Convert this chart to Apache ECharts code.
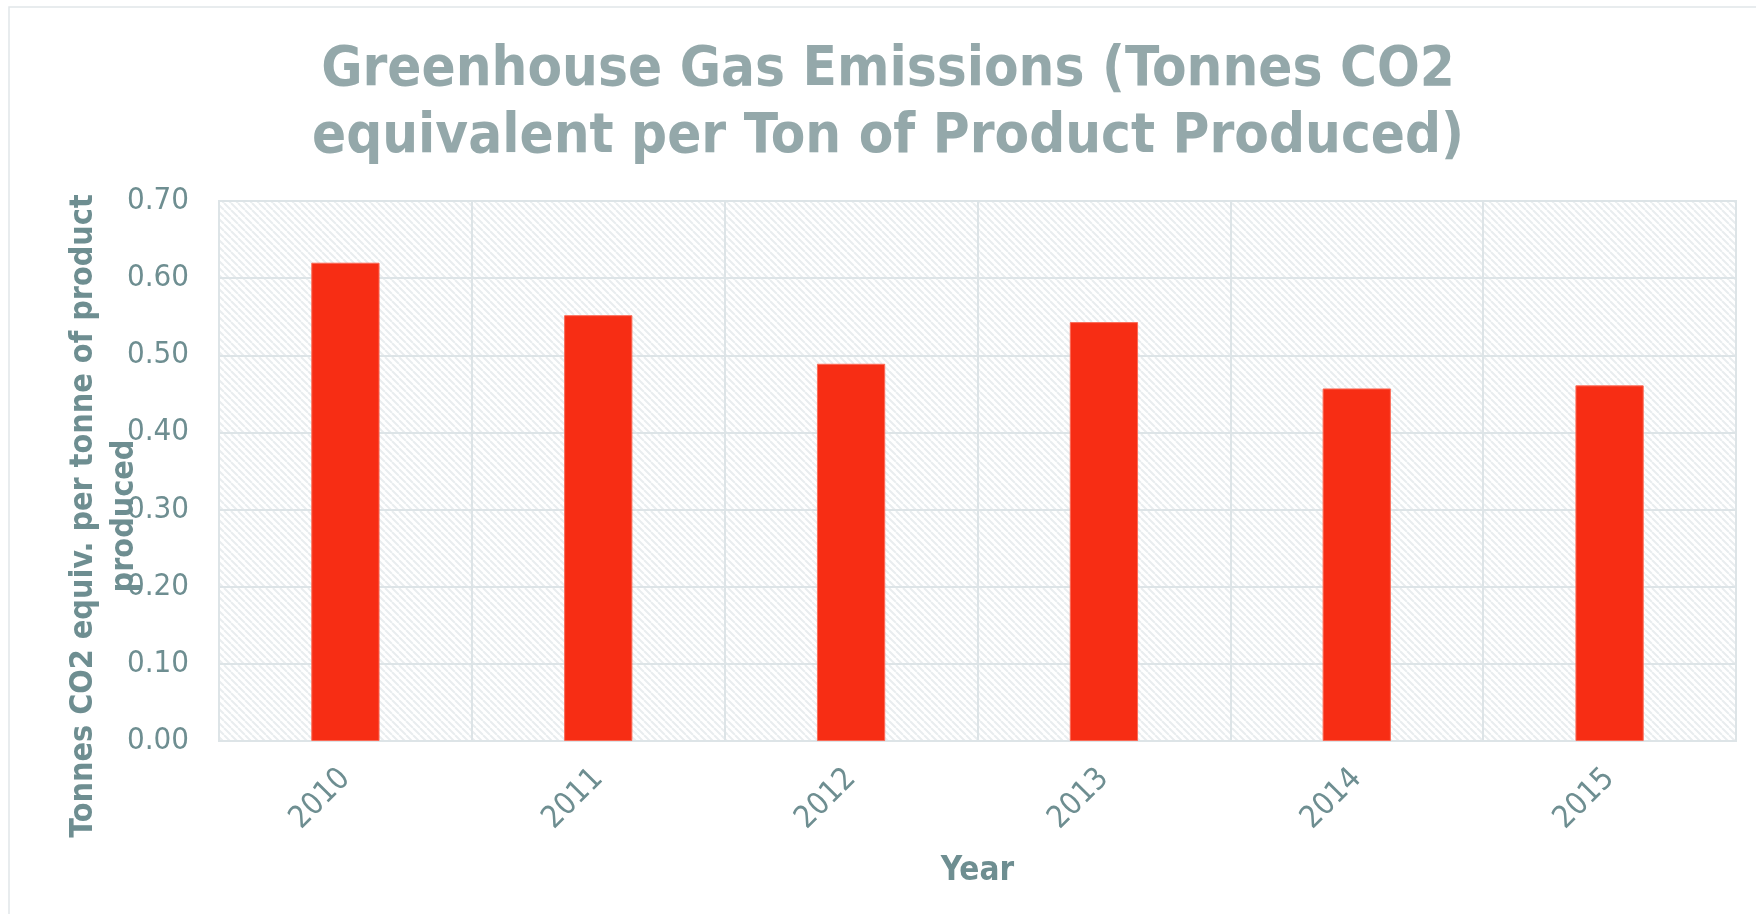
<!DOCTYPE html>
<html>
<head>
<meta charset="utf-8">
<script src="https://cdn.jsdelivr.net/npm/echarts@6/dist/echarts.min.js"></script>
<style>
html,body{margin:0;padding:0;background:#fff;}
#chart{width:1756px;height:914px;}
</style>
</head>
<body>
<div id="chart"></div>
<script>
const categories = ['2010', '2011', '2012', '2013', '2014', '2015'];
const emissions = [0.620, 0.552, 0.489, 0.543, 0.457, 0.461];
const yTicks = [0, 0.1, 0.2, 0.3, 0.4, 0.5, 0.6, 0.7];

const titleText = 'Greenhouse Gas Emissions (Tonnes CO2\nequivalent per Ton of Product Produced)';
const yName = 'Tonnes CO2 equiv. per tonne of product\nproduced';
const xName = 'Year';

// hatched plot background pattern
const pc = document.createElement('canvas');
pc.width = 7; pc.height = 7;
const pctx = pc.getContext('2d');
pctx.fillStyle = '#ffffff';
pctx.fillRect(0, 0, 7, 7);
pctx.strokeStyle = '#E9EDEF';
pctx.lineWidth = 2;
pctx.beginPath();
for (let k = -7; k <= 14; k += 7) {
  pctx.moveTo(k, 0);
  pctx.lineTo(k + 7, 7);
}
pctx.stroke();

const font = '"DejaVu Sans Condensed", "DejaVu Sans", sans-serif';
const labelColor = '#6E8E91';
const gridColor = '#DDE4E7';

const chart = echarts.init(document.getElementById('chart'));
chart.setOption({
  animation: false,
  backgroundColor: '#ffffff',
  title: {
    text: titleText,
    left: 888,
    top: 37,
    padding: 0,
    textAlign: 'center',
    textStyle: {
      fontFamily: font,
      fontWeight: 'bold',
      fontSize: 56,
      lineHeight: 67,
      color: '#94A8AA'
    }
  },
  graphic: [
    {
      type: 'rect',
      silent: true,
      z: -10,
      shape: {x: 9, y: 7, width: 2000, height: 1200},
      style: {fill: 'none', stroke: '#E1E6E9', lineWidth: 1.5}
    },
    {
      type: 'text',
      x: 104,
      y: 516,
      rotation: Math.PI / 2,
      style: {
        text: yName,
        align: 'center',
        verticalAlign: 'middle',
        fontFamily: font,
        fontWeight: 'bold',
        fontSize: 32,
        lineHeight: 41,
        fill: labelColor
      }
    }
  ],
  grid: {
    left: 219,
    right: 20,
    top: 201,
    bottom: 173,
    show: true,
    backgroundColor: {image: pc, repeat: 'repeat'},
    borderColor: gridColor,
    borderWidth: 2
  },
  xAxis: {
    type: 'category',
    data: categories,
    name: xName,
    nameLocation: 'middle',
    nameGap: 114,
    nameTextStyle: {
      fontFamily: font,
      fontWeight: 'bold',
      fontSize: 33,
      color: labelColor
    },
    axisLine: {show: true, lineStyle: {color: gridColor, width: 2}},
    axisTick: {show: false},
    axisLabel: {
      rotate: 45,
      margin: 33,
      fontFamily: font,
      fontSize: 31,
      color: labelColor
    },
    splitLine: {show: true, lineStyle: {color: gridColor, width: 2}}
  },
  yAxis: {
    type: 'value',
    min: 0,
    max: 0.7,
    interval: 0.1,
    axisLine: {show: false},
    axisTick: {show: false},
    axisLabel: {
      margin: 30,
      fontFamily: font,
      fontSize: 31,
      color: labelColor,
      formatter: function (v) {
        return yTicks.some(t => Math.abs(t - v) < 1e-9) ? v.toFixed(2) : '';
      }
    },
    splitLine: {show: true, lineStyle: {color: gridColor, width: 2}}
  },
  series: [{
    type: 'bar',
    data: emissions,
    barWidth: '27%',
    itemStyle: {color: '#F72D14', borderColor: '#FA6A57', borderWidth: 1}
  }]
});
</script>
</body>
</html>
